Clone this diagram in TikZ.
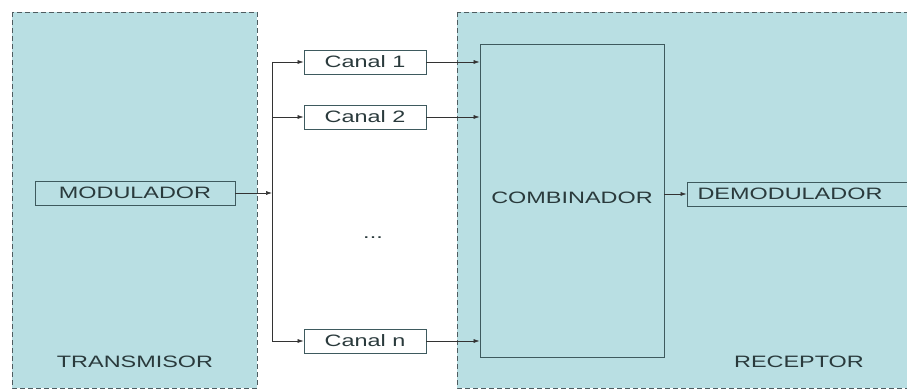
\documentclass[tikz,border=0pt]{standalone}
\usepackage{fontspec}
\setmainfont{Liberation Sans}[FakeStretch=1.42]
\usetikzlibrary{positioning}
\usetikzlibrary{arrows.meta}
\definecolor{fondo}{HTML}{B9DFE3}
\definecolor{borde}{HTML}{4E5C60}
\definecolor{caja}{HTML}{3E5A5E}
\definecolor{letra}{HTML}{2A3A3C}
\tikzset{
  bloque/.style={draw=caja, line width=0.8pt, minimum height=24pt, inner sep=0pt, text depth=0pt},
  flecha/.style={-{Latex[length=6pt,width=4pt]}, line width=0.6pt, draw=black!80},
  zona/.style={draw=borde, fill=fondo, dashed, dash pattern=on 5pt off 3pt, line width=0.9pt}
}

\begin{document}
\begin{tikzpicture}[x=1pt, y=-1pt, font=\fontsize{16.5}{18}\selectfont, text=letra]
		\useasboundingbox (0,0) rectangle (907,390);
		\fill[white] (0,0) rectangle (907,390);
		%% las dos zonas sombreadas
		\draw[zona] (12,12) rectangle (257,388);
		\draw[zona] (457,12) rectangle (915,388);
		%% bloques del transmisor y los canales
		\node[bloque, minimum width=200pt] (mod) at (135,193) {MODULADOR};
		\node[bloque, fill=white, minimum width=122pt] (can1) at (365,62) {Canal 1};
		\node[bloque, fill=white, minimum width=122pt] (can2) at (365,117) {Canal 2};
		\node[bloque, fill=white, minimum width=122pt] (cann) at (365,341) {Canal n};
		\node (puntos) at (373,238) {...};
		%% bloques del receptor
		\node[bloque, minimum width=184pt, minimum height=313pt] (comb) at (572,200.5) {\raisebox{6.5pt}{COMBINADOR}};
		\node[bloque, minimum width=240pt] (demod) at (807,194) {\hspace*{-34pt}DEMODULADOR};
		\node[text depth=0pt] (tx) at (135,362) {TRANSMISOR};
		\node[text depth=0pt] (rx) at (799,362) {RECEPTOR};
		%% reparto de la senal
		\coordinate (bus) at (272,193);
		\draw[line width=0.6pt, draw=black!80] (can1.west -| bus) -- (cann.west -| bus);
		\draw[flecha] (mod.east) -- (bus);
		\draw[flecha] (can1.west -| bus) -- (can1.west);
		\draw[flecha] (can2.west -| bus) -- (can2.west);
		\draw[flecha] (cann.west -| bus) -- (cann.west);
		\draw[flecha] (can1.east) -- (can1.east -| comb.west);
		\draw[flecha] (can2.east) -- (can2.east -| comb.west);
		\draw[flecha] (cann.east) -- (cann.east -| comb.west);
		\draw[flecha] (comb.east |- demod.west) -- (demod.west);
	\end{tikzpicture}
\end{document}
